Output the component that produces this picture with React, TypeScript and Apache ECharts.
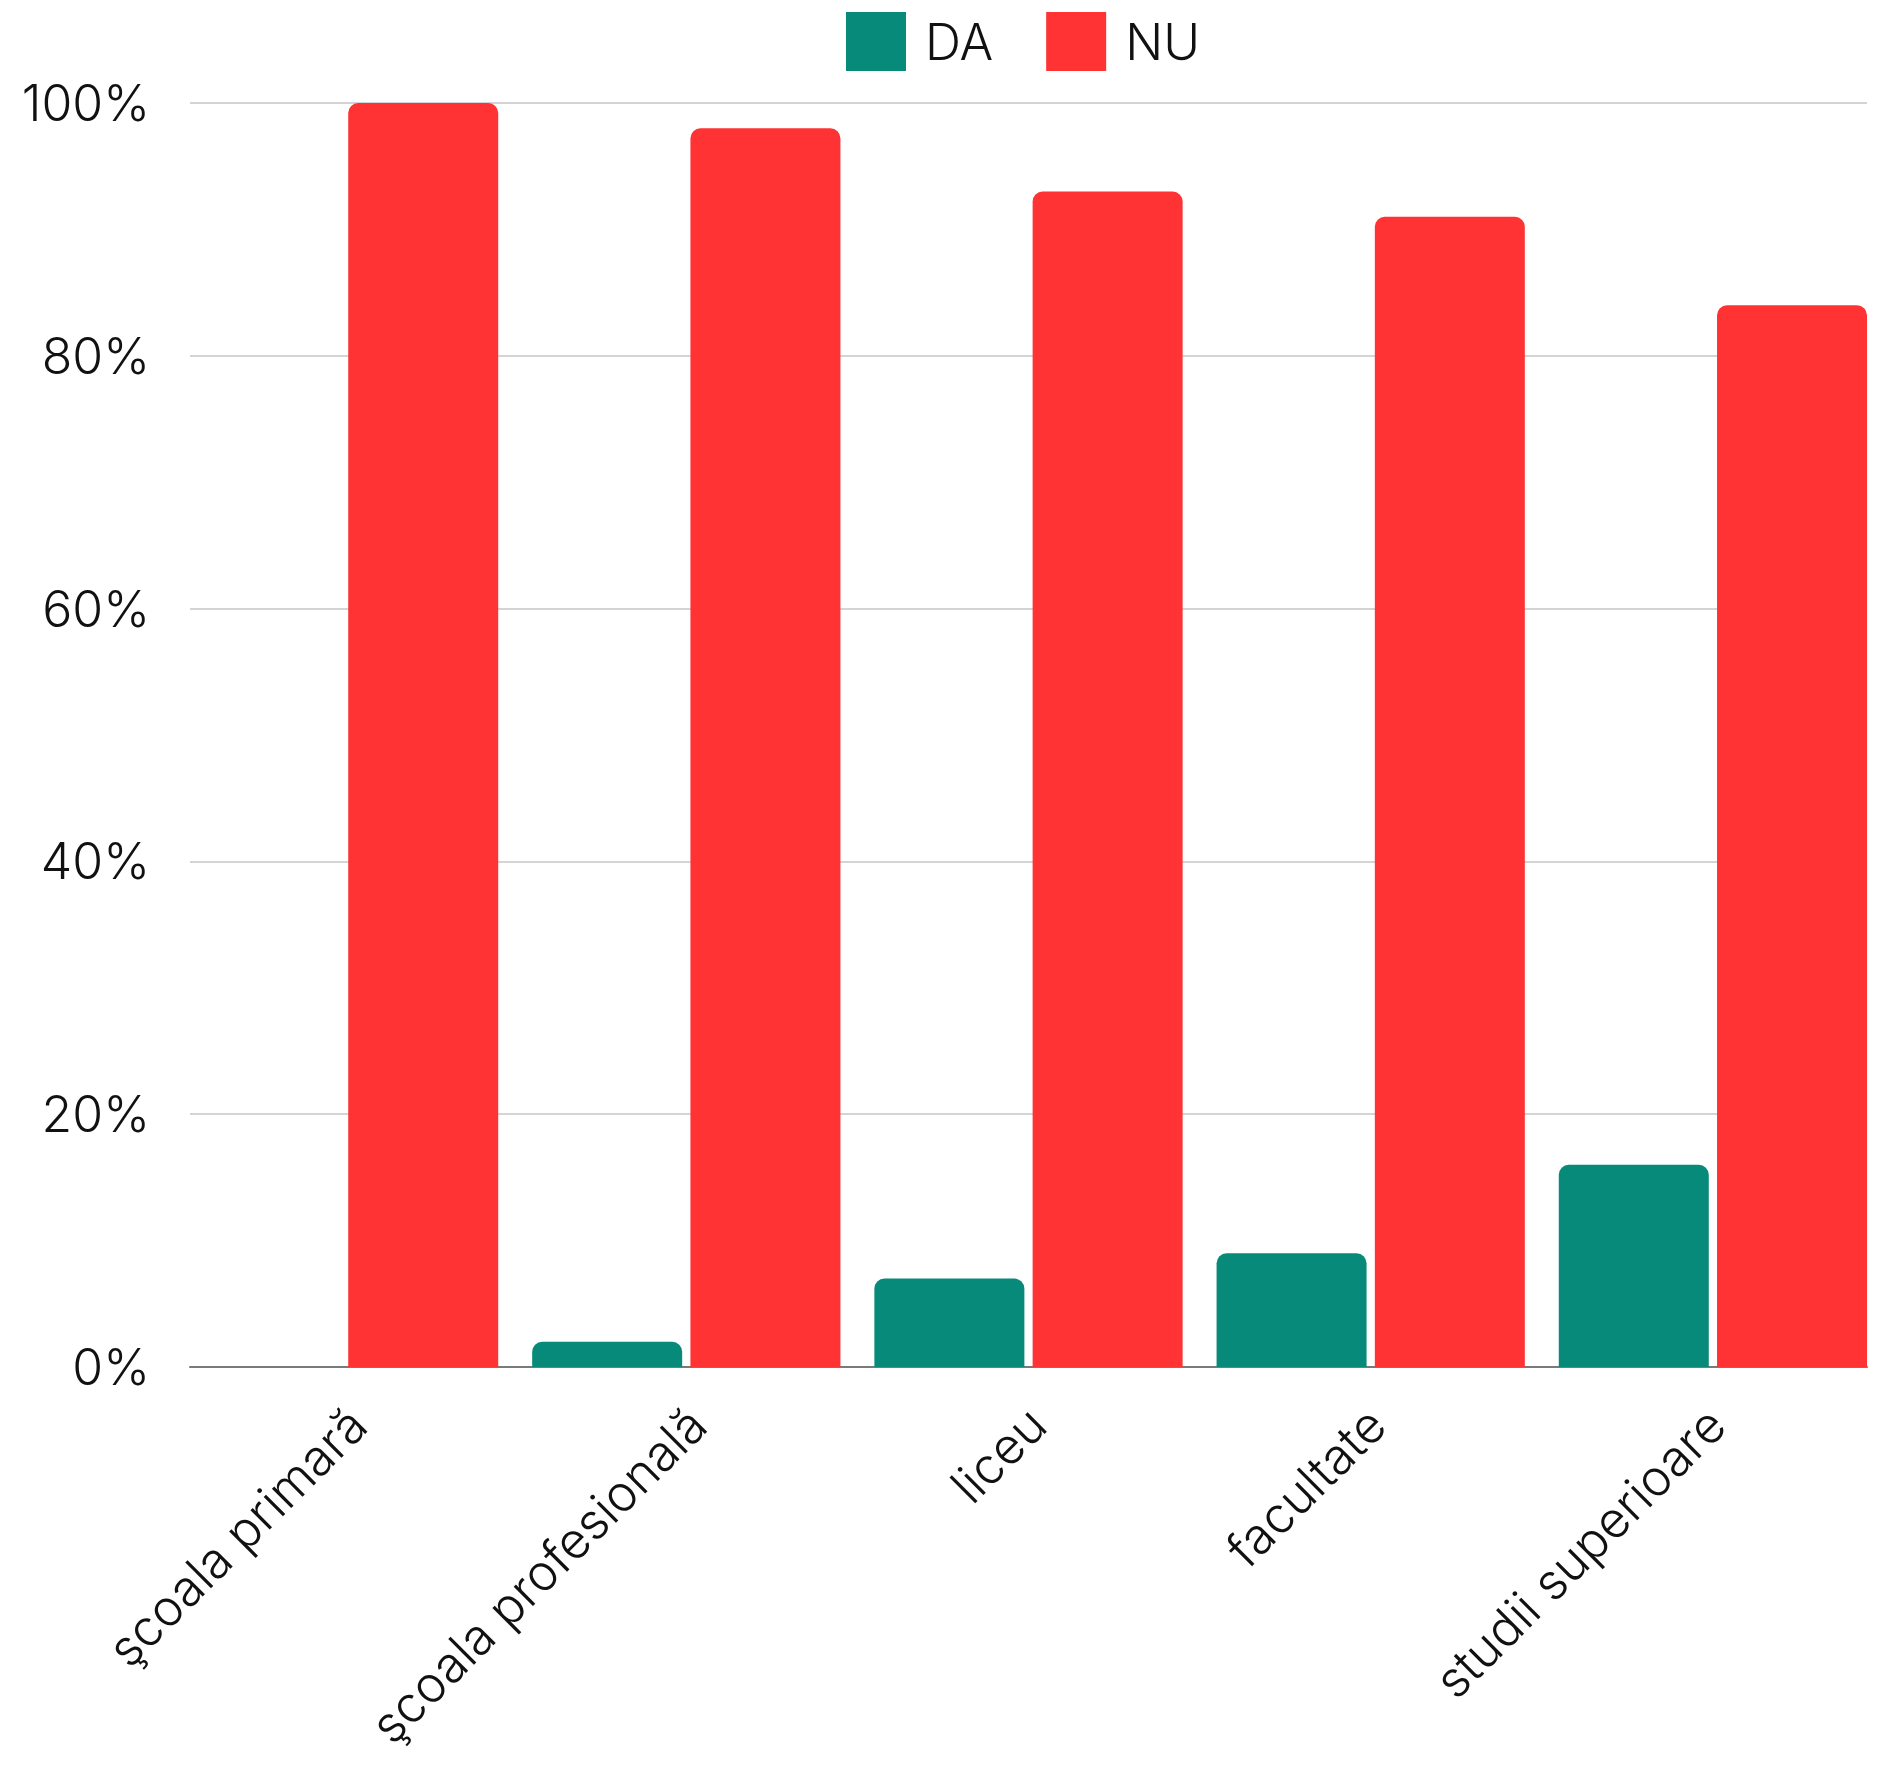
import React, { useEffect, useRef } from "react";
import * as echarts from "echarts";

const categories = ["şcoala primară", "şcoala profesională", "liceu", "facultate", "studii superioare"];
const daValues = [0, 2, 7, 9, 16];
const nuValues = [100, 98, 93, 91, 84];
const seriesNames = ["DA", "NU"];
const yTicks = { min: 0, max: 100, interval: 20 };

const FONT = "Inter, 'Noto Sans', sans-serif";
const WEIGHT = 300;

export default function App() {
  const ref = useRef<HTMLDivElement>(null);
  useEffect(() => {
    if (!ref.current) return;
    const chart = echarts.init(ref.current, undefined, { renderer: "svg" });
    const top = 103;
    const bottom = 398;
    chart.setOption({
      animation: false,
      backgroundColor: "#ffffff",
      textStyle: { fontFamily: FONT, fontWeight: WEIGHT },
      legend: {
        left: 846,
        top: 12,
        padding: 0,
        itemWidth: 60,
        itemHeight: 59,
        itemGap: 53,
        icon: "rect",
        data: seriesNames,
        textStyle: {
          fontSize: 50,
          color: "#111",
          fontFamily: FONT,
          fontWeight: WEIGHT,
          padding: [0, 0, 0, 14],
        },
      },
      grid: [
        { left: 173, right: 2, top, bottom },
        { left: 190, right: 19, top, bottom },
        { left: 188, right: -13, top, bottom },
      ],
      xAxis: [
        {
          type: "category",
          gridIndex: 0,
          data: categories,
          axisLine: { show: false },
          axisTick: { show: false },
          axisLabel: { show: false },
        },
        {
          type: "category",
          gridIndex: 1,
          data: categories,
          axisLine: { show: true, lineStyle: { color: "#7a7a7a", width: 2 } },
          axisTick: { show: false },
          axisLabel: { show: false },
          z: 0,
        },
        {
          type: "category",
          gridIndex: 2,
          data: categories,
          axisLine: { show: false },
          axisTick: { show: false },
          axisLabel: {
            show: true,
            interval: 0,
            rotate: 45,
            margin: 49,
            fontSize: 50,
            color: "#111",
            fontFamily: FONT,
            fontWeight: WEIGHT,
            hideOverlap: false,
          },
        },
      ],
      yAxis: [
        {
          type: "value",
          gridIndex: 0,
          ...yTicks,
          axisLabel: { show: false },
          splitLine: { show: false },
          axisLine: { show: false },
          axisTick: { show: false },
        },
        {
          type: "value",
          gridIndex: 1,
          ...yTicks,
          axisLabel: {
            formatter: "{value}%",
            fontSize: 50,
            color: "#111",
            margin: 40,
            fontFamily: FONT,
            fontWeight: WEIGHT,
          },
          splitLine: { show: true, lineStyle: { color: "#c6c6c6", width: 1.5 } },
          axisLine: { show: false },
          axisTick: { show: false },
        },
        {
          type: "value",
          gridIndex: 2,
          ...yTicks,
          show: false,
        },
      ],
      series: [
        {
          name: seriesNames[0],
          type: "bar",
          xAxisIndex: 0,
          yAxisIndex: 0,
          data: daValues,
          barWidth: 150,
          barGap: "5.5%",
          itemStyle: { color: "#078a79", borderRadius: [10, 10, 0, 0] },
          z: 3,
        },
        {
          name: seriesNames[1],
          type: "bar",
          xAxisIndex: 0,
          yAxisIndex: 0,
          data: nuValues,
          barWidth: 150,
          barGap: "5.5%",
          itemStyle: { color: "#ff3333", borderRadius: [10, 10, 0, 0] },
          z: 3,
        },
      ],
    });
    return () => chart.dispose();
  }, []);
  return (
    <div
      ref={ref}
      style={{ position: "fixed", left: 0, top: 0, width: 1886, height: 1765, background: "#fff" }}
    />
  );
}
